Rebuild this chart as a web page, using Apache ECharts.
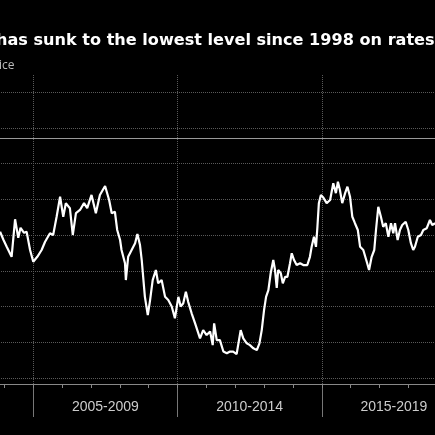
<!DOCTYPE html>
<html>
<head>
<meta charset="utf-8">
<script src="https://cdn.jsdelivr.net/npm/echarts@6/dist/echarts.min.js"></script>
<style>
  html, body { margin: 0; padding: 0; background: #000; overflow: hidden; }
  #wrap { width: 435px; height: 435px; overflow: hidden; position: relative; }
  /* the chart is wider than the window: 2000-2004 and the end of 2015-2019 fall outside the crop */
  #main { width: 577px; height: 435px; position: absolute; left: -111px; top: 0; }
</style>
</head>
<body>
<div id="wrap"><div id="main"></div></div>
<script>
var titleText = 'has sunk to the lowest level since 1998 on rates';
var subText = 'ice';
var periods = ['2000-2004', '2005-2009', '2010-2014', '2015-2019'];
var yearMin = 2000, yearMax = 2020;
var valueMin = 70, valueMax = 150, valueStep = 10;
var refLevel = 137.2;

var years = [
  2003.85, 2003.97, 2004.08, 2004.25, 2004.37, 2004.48, 2004.56, 2004.68, 2004.77, 2004.89,
  2005.00, 2005.14, 2005.29, 2005.41, 2005.58, 2005.69, 2005.81, 2005.93, 2006.04, 2006.13,
  2006.27, 2006.37, 2006.48, 2006.62, 2006.76, 2006.87, 2007.02, 2007.17, 2007.31, 2007.49,
  2007.63, 2007.72, 2007.83, 2007.91, 2008.01, 2008.06, 2008.18, 2008.21, 2008.29, 2008.41,
  2008.53, 2008.61, 2008.70, 2008.76, 2008.81, 2008.87, 2008.97, 2009.05, 2009.14, 2009.25,
  2009.33, 2009.45, 2009.57, 2009.68, 2009.80, 2009.91, 2010.03, 2010.11, 2010.20, 2010.29,
  2010.37, 2010.49, 2010.61, 2010.78, 2010.89, 2011.01, 2011.13, 2011.22, 2011.27, 2011.36,
  2011.47, 2011.59, 2011.71, 2011.82, 2011.93, 2012.05, 2012.19, 2012.28, 2012.40, 2012.51,
  2012.63, 2012.75, 2012.84, 2012.92, 2013.00, 2013.07, 2013.15, 2013.23, 2013.32, 2013.38,
  2013.44, 2013.49, 2013.58, 2013.65, 2013.73, 2013.81, 2013.90, 2013.96, 2014.04, 2014.13,
  2014.25, 2014.36, 2014.50, 2014.59, 2014.65, 2014.73, 2014.80, 2014.85, 2014.90, 2014.97,
  2015.06, 2015.17, 2015.29, 2015.40, 2015.49, 2015.56, 2015.63, 2015.71, 2015.81, 2015.89,
  2015.98, 2016.06, 2016.15, 2016.25, 2016.33, 2016.44, 2016.56, 2016.64, 2016.73, 2016.82,
  2016.88, 2016.96, 2017.05, 2017.13, 2017.22, 2017.31, 2017.40, 2017.48, 2017.54, 2017.63,
  2017.71, 2017.79, 2017.91, 2018.00, 2018.09, 2018.17, 2018.23, 2018.33, 2018.44, 2018.52,
  2018.64, 2018.75, 2018.83, 2018.93
];
var values = [
  110.9, 108.6, 106.7, 103.9, 114.4, 109.2, 112.0, 110.6, 110.9, 105.8,
  102.5, 103.9, 105.8, 108.1, 110.5, 110.0, 115.1, 120.7, 115.1, 118.9,
  117.5, 110.0, 116.1, 117.0, 118.9, 117.5, 121.2, 116.1, 121.2, 123.7,
  119.8, 116.1, 116.5, 111.4, 108.6, 105.8, 102.1, 97.4, 103.9, 105.8,
  107.7, 110.3, 107.2, 103.0, 98.3, 92.7, 87.6, 91.8, 97.4, 100.2,
  96.5, 97.4, 92.7, 91.8, 90.0, 86.7, 92.7, 90.0, 90.9, 94.1,
  91.3, 88.1, 85.3, 81.1, 83.4, 82.0, 83.0, 79.2, 85.3, 80.6,
  80.6, 77.4, 76.9, 77.4, 77.4, 76.7, 83.4, 81.1, 79.7, 79.2,
  78.3, 77.8, 79.7, 83.4, 89.0, 92.7, 94.6, 99.3, 103.0, 100.2,
  95.2, 100.2, 99.3, 96.5, 98.3, 98.3, 102.1, 104.9, 103.0, 101.6,
  102.1, 101.6, 101.6, 103.9, 106.7, 109.5, 106.7, 112.3, 118.9, 121.2,
  120.4, 118.9, 119.8, 124.5, 121.7, 124.9, 122.6, 118.9, 121.7, 123.5,
  120.7, 115.1, 113.3, 111.4, 106.7, 105.8, 102.5, 100.2, 103.9, 105.8,
  111.4, 117.9, 115.1, 112.3, 113.3, 109.5, 113.3, 110.5, 113.3, 108.6,
  111.4, 112.8, 113.7, 111.4, 107.7, 105.8, 106.7, 109.5, 110.0, 111.4,
  111.9, 114.2, 112.8, 113.3
];

var chart = echarts.init(document.getElementById('main'));

var gridLine = { color: '#5a5a5a', type: 'dotted', width: 1 };

var option = {
  backgroundColor: '#000',
  animation: false,
  title: [{
    text: titleText,
    left: 102,
    top: 28,
    textStyle: { color: '#fff', fontSize: 16.1, fontWeight: 'bold', fontFamily: 'DejaVu Sans' }
  }, {
    text: subText,
    left: 105,
    top: 55,
    textStyle: { color: '#bbb', fontSize: 12, fontWeight: 'normal', fontFamily: 'Open Sans' }
  }],
  grid: [
    { left: 0, right: 0, top: 75, bottom: 51 },
    { left: 0, right: 0, top: 92, bottom: 57 }
  ],
  xAxis: [{
    type: 'category',
    gridIndex: 0,
    position: 'bottom',
    data: periods,
    boundaryGap: true,
    axisLine: { show: false },
    axisTick: { show: true, length: 33, lineStyle: { color: '#777' } },
    axisLabel: { color: '#ccc', fontSize: 14, margin: 16, fontFamily: 'Liberation Sans' },
    splitLine: { show: true, lineStyle: gridLine }
  }, {
    type: 'value',
    gridIndex: 0,
    position: 'bottom',
    min: yearMin,
    max: yearMax,
    interval: 1,
    axisLine: { show: true, lineStyle: { color: '#888', width: 1 } },
    axisTick: { show: true, length: 4, lineStyle: { color: '#888' } },
    axisLabel: { show: false },
    splitLine: { show: false }
  }, {
    type: 'value',
    gridIndex: 1,
    min: yearMin,
    max: yearMax,
    show: false
  }],
  yAxis: [{
    type: 'value',
    gridIndex: 0,
    min: 0,
    max: 1,
    show: false
  }, {
    type: 'value',
    gridIndex: 1,
    min: valueMin,
    max: valueMax,
    interval: valueStep,
    axisLine: { show: false },
    axisTick: { show: false },
    axisLabel: { show: false },
    splitLine: { show: true, lineStyle: gridLine }
  }],
  series: [{
    type: 'line',
    xAxisIndex: 2,
    yAxisIndex: 1,
    data: years.map(function (y, i) { return [y, values[i]]; }),
    showSymbol: false,
    lineStyle: { color: '#fff', width: 2.2 },
    markLine: {
      silent: true,
      symbol: 'none',
      label: { show: false },
      lineStyle: { color: '#999', type: 'solid', width: 1.2 },
      data: [{ yAxis: refLevel }]
    }
  }]
};

chart.setOption(option);
</script>
</body>
</html>
